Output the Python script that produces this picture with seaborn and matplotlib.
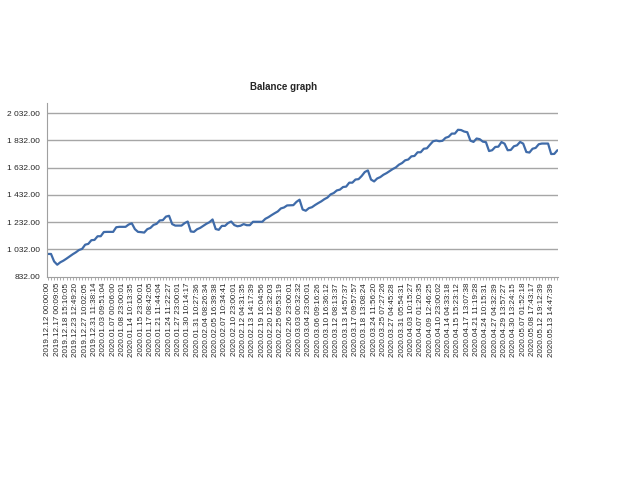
import matplotlib
matplotlib.use("Agg")
import matplotlib.pyplot as plt
import seaborn as sns
import pandas as pd

# balance readings, 3 readings between each dated label
balance = [
    999, 999, 944, 920, 938, 950, 965, 981, 997, 1011,
    1028, 1036, 1067, 1073, 1100, 1102, 1129, 1129, 1160, 1161,
    1161, 1161, 1195, 1198, 1198, 1198, 1215, 1224, 1181, 1161,
    1159, 1156, 1181, 1190, 1212, 1220, 1245, 1247, 1273, 1279,
    1218, 1207, 1207, 1207, 1225, 1237, 1164, 1161, 1180, 1190,
    1205, 1220, 1232, 1252, 1182, 1176, 1205, 1205, 1226, 1237,
    1211, 1202, 1206, 1218, 1210, 1210, 1235, 1235, 1235, 1235,
    1257, 1269, 1284, 1298, 1311, 1333, 1340, 1355, 1356, 1357,
    1381, 1397, 1325, 1316, 1335, 1342, 1358, 1372, 1385, 1401,
    1413, 1436, 1446, 1465, 1471, 1490, 1493, 1522, 1522, 1545,
    1548, 1571, 1600, 1612, 1545, 1531, 1553, 1563, 1580, 1592,
    1607, 1622, 1634, 1654, 1666, 1686, 1692, 1715, 1718, 1745,
    1745, 1771, 1774, 1801, 1826, 1831, 1826, 1829, 1851, 1859,
    1882, 1882, 1910, 1908, 1897, 1892, 1830, 1821, 1846, 1841,
    1823, 1819, 1754, 1760, 1784, 1786, 1820, 1808, 1760, 1762,
    1789, 1796, 1821, 1808, 1747, 1743, 1771, 1777, 1804, 1809,
    1809, 1809, 1732, 1733, 1760,
]

dates = [
    "2019.12.12 00:00:00", "2019.12.17 00:09:05", "2019.12.18 15:10:05",
    "2019.12.23 12:49:20", "2019.12.27 10:02:05", "2019.12.31 11:38:14",
    "2020.01.03 09:51:04", "2020.01.07 00:06:00", "2020.01.08 23:00:01",
    "2020.01.14 10:13:35", "2020.01.15 23:00:01", "2020.01.17 08:42:05",
    "2020.01.21 11:44:04", "2020.01.24 11:22:27", "2020.01.27 23:00:01",
    "2020.01.30 10:14:17", "2020.01.31 10:27:36", "2020.02.04 08:26:34",
    "2020.02.05 16:39:38", "2020.02.07 10:34:41", "2020.02.10 23:00:01",
    "2020.02.12 04:31:35", "2020.02.13 14:17:39", "2020.02.19 16:04:56",
    "2020.02.20 12:32:03", "2020.02.25 09:53:19", "2020.02.26 23:00:01",
    "2020.03.03 00:32:32", "2020.03.04 23:00:01", "2020.03.06 09:16:26",
    "2020.03.10 16:36:12", "2020.03.12 08:13:37", "2020.03.13 14:57:37",
    "2020.03.17 09:57:57", "2020.03.18 13:08:24", "2020.03.24 11:56:20",
    "2020.03.25 07:27:26", "2020.03.27 04:45:28", "2020.03.31 05:54:31",
    "2020.04.03 10:15:27", "2020.04.07 01:20:35", "2020.04.09 12:46:25",
    "2020.04.10 23:00:02", "2020.04.14 04:33:18", "2020.04.15 15:23:12",
    "2020.04.17 13:07:38", "2020.04.21 11:19:28", "2020.04.24 10:15:31",
    "2020.04.27 04:32:39", "2020.04.29 13:57:27", "2020.04.30 13:24:15",
    "2020.05.07 01:52:18", "2020.05.08 17:43:17", "2020.05.12 19:12:39",
    "2020.05.13 14:47:39",
]

y_ticks = [832, 1032, 1232, 1432, 1632, 1832, 2032]

df = pd.DataFrame({"step": range(len(balance)), "balance": balance})

sns.set_style("white")
plt.rcParams["font.family"] = ["Liberation Sans", "DejaVu Sans"]

fig = plt.figure(figsize=(6.4, 4.8), dpi=100)
ax = fig.add_axes([0.0734, 0.4235, 0.7985, 0.3615])

for t in y_ticks[1:]:
    ax.axhline(t, color="#a6a6a6", lw=1, zorder=0)

sns.lineplot(data=df, x="step", y="balance", ax=ax, color="#3f6ba9", lw=1.6)

ax.set_xlim(-0.3, len(balance) - 0.8)
ax.set_ylim(832, 2105)
ax.set_yticks(y_ticks)
ax.set_yticklabels([f"{v:,.2f}".replace(",", " ") for v in y_ticks], fontsize=6)
ax.set_xticks(range(0, len(dates) * 3, 3))
ax.set_xticklabels(dates, rotation=90, fontsize=5.8)
ax.set_xticks(range(len(balance)), minor=True)
ax.tick_params(axis="x", which="both", length=2.5, width=0.6, color="#a0a0a0",
               pad=2, bottom=True)
ax.tick_params(axis="y", length=0, pad=5)
ax.set_xlabel("")
ax.set_ylabel("")

for side in ["top", "right"]:
    ax.spines[side].set_visible(False)
for side in ["left", "bottom"]:
    ax.spines[side].set_color("#a0a0a0")
    ax.spines[side].set_linewidth(0.8)

fig.text(284 / 640, 1 - 87 / 480, "Balance graph", ha="center", va="center",
         fontsize=7, fontweight="bold")

fig.savefig("out.png", dpi=100)
